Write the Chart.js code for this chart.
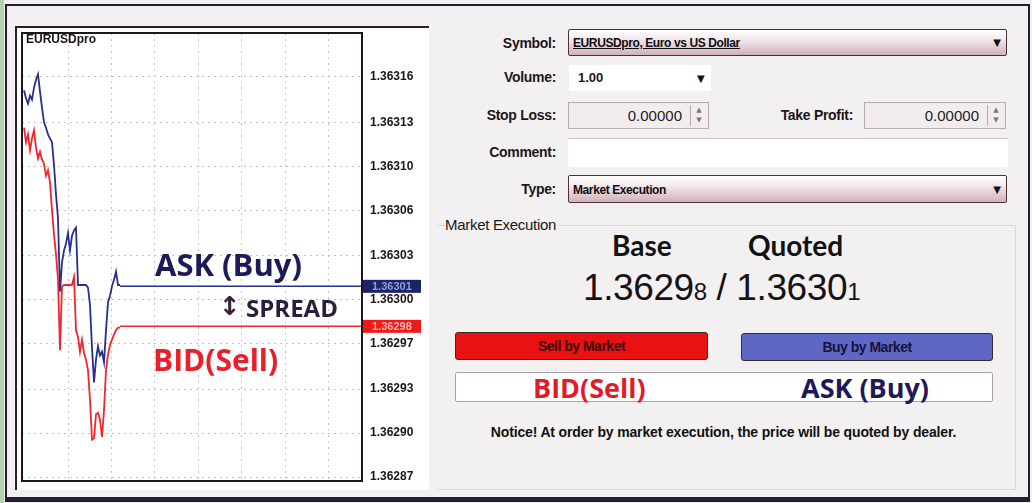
<!DOCTYPE html>
<html>
<head>
<meta charset="utf-8">
<script src="https://cdn.jsdelivr.net/npm/chart.js@4.4.0/dist/chart.umd.min.js"></script>
<style>
  body { margin: 0; width: 1032px; height: 503px; background: #f3f0f2; position: relative; overflow: hidden; font-family: "Liberation Sans", Arial, sans-serif; color: #1c1619; }
  .abs { position: absolute; }
  .lbl { position: absolute; width: 120px; text-align: right; font: bold 14px/14px "Liberation Sans", sans-serif; color: #1c1619; letter-spacing: -0.3px; }
  .combo { position: absolute; box-sizing: border-box; border: 1px solid #4a3038; border-radius: 2px;
    background: linear-gradient(to bottom, #ffffff 0%, #f4eaee 35%, #cfb2ba 100%); }
  .combo span { position: absolute; left: 4px; top: 6px; font: bold 12px/14px "Liberation Sans", sans-serif; letter-spacing: -0.4px; color: #120c10; }
  .arrow { position: absolute; font: 10px/10px "DejaVu Sans", sans-serif; color: #111; }
  .edit { position: absolute; box-sizing: border-box; border: 1px solid #b9a9b0; background: #f2ecef; }
  .edit span { position: absolute; right: 26px; top: 5px; font: 15px/16px "Liberation Sans", sans-serif; color: #222; }
  .spin { position: absolute; right: 1px; top: 2px; width: 16px; height: 21px; border-left: 1px solid #b9a9b0; font: 7px/10px "DejaVu Sans", sans-serif; color: #777; text-align: center; }
  .btn { position: absolute; box-sizing: border-box; border: 1px solid #3a2a2a; border-radius: 3px; display: flex; align-items: center; justify-content: center;
    font: bold 14px "Liberation Sans", sans-serif; letter-spacing: -0.5px; }
  .big { position: absolute; font-family: "Open Sans", sans-serif; font-weight: bold; white-space: nowrap; }
</style>
</head>
<body>
<div class="abs" style="left:0;top:0;width:4px;height:503px;background:#b5d2ae;"></div>
<div class="abs" style="left:5px;top:4px;width:1025px;height:498px;box-sizing:border-box;border:2px solid #241d38;border-bottom-width:5px;"></div>

<!-- chart panel -->
<div class="abs" style="left:15px;top:26px;width:414px;height:464px;box-sizing:border-box;background:#ffffff;border-left:2px solid #2b1d2a;border-top:2px solid #2b1d2a;"></div>
<div class="abs" style="left:17px;top:26px;width:415px;height:462px;">
  <canvas id="quotes"></canvas>
</div>
<div class="big" style="left:155px;top:249px;font-size:31px;line-height:31px;color:#1e1a5a;">ASK (Buy)</div>
<div class="abs" style="left:219px;top:292px;font:bold 26px/28px 'DejaVu Sans',sans-serif;color:#3b2236;">↕</div>
<div class="big" style="left:246px;top:296px;font-size:24px;line-height:24px;color:#2a1e3a;">SPREAD</div>
<div class="big" style="left:153px;top:345px;font-size:30px;line-height:30px;color:#e8202c;">BID(Sell)</div>

<!-- order form -->
<div class="lbl" style="left:436px;top:36px;">Symbol:</div>
<div class="combo" style="left:568px;top:29px;width:439px;height:27px;"><span style="text-decoration:underline;">EURUSDpro, Euro vs US Dollar</span><div class="arrow" style="right:5px;top:8px;">▼</div></div>

<div class="lbl" style="left:436px;top:70px;">Volume:</div>
<div class="abs" style="left:569px;top:65px;width:142px;height:26px;background:#fff;">
  <span class="abs" style="left:9px;top:6px;font:bold 13px/14px 'Liberation Sans',sans-serif;">1.00</span>
  <div class="arrow" style="left:128px;top:9px;">▼</div>
</div>

<div class="lbl" style="left:436px;top:108px;">Stop Loss:</div>
<div class="edit" style="left:568px;top:102px;width:141px;height:27px;"><span>0.00000</span><div class="spin">▲<br>▼</div></div>
<div class="lbl" style="left:733px;top:108px;">Take Profit:</div>
<div class="edit" style="left:864px;top:102px;width:142px;height:27px;"><span>0.00000</span><div class="spin">▲<br>▼</div></div>

<div class="lbl" style="left:436px;top:145px;">Comment:</div>
<div class="abs" style="left:568px;top:138px;width:440px;height:29px;box-sizing:border-box;background:#fff;border-top:1px solid #cfc6ca;"></div>

<div class="lbl" style="left:436px;top:182px;">Type:</div>
<div class="combo" style="left:568px;top:175px;width:439px;height:28px;"><span style="top:7px;">Market Execution</span><div class="arrow" style="right:5px;top:9px;">▼</div></div>

<div class="abs" style="left:438px;top:225px;width:578px;height:265px;box-sizing:border-box;border-top:1px solid #ddd5d9;border-right:1px solid #ddd5d9;border-bottom:1px solid #ddd5d9;"></div>
<div class="abs" style="left:445px;top:217px;font:15px/15px 'Liberation Sans',sans-serif;letter-spacing:-0.3px;color:#1c1619;background:#f3f0f2;padding-right:3px;">Market Execution</div>

<div class="abs" style="left:612px;top:231px;font:bold 28px/28px Lato,sans-serif;color:#111;">Base</div>
<div class="abs" style="left:748px;top:231px;font:bold 28px/28px Lato,sans-serif;color:#111;">Quoted</div>
<div class="abs" style="left:583px;top:269px;font:37px/37px 'Liberation Sans',sans-serif;letter-spacing:-0.4px;color:#161216;white-space:nowrap;">1.3629<span style="font-size:24px;">8</span> / 1.3630<span style="font-size:24px;">1</span></div>

<div class="btn" style="left:455px;top:332px;width:253px;height:28px;background:#e81212;color:#3a0808;">Sell by Market</div>
<div class="btn" style="left:741px;top:333px;width:252px;height:28px;background:#5f66c4;color:#141438;">Buy by Market</div>

<div class="abs" style="left:455px;top:372px;width:538px;height:30px;box-sizing:border-box;background:#fff;border:1px solid #a9a0a4;border-radius:2px;"></div>
<div class="big" style="left:533px;top:374px;font-size:27px;line-height:27px;color:#e01c2a;">BID(Sell)</div>
<div class="big" style="left:801px;top:374px;font-size:27px;line-height:27px;color:#1e1a5a;">ASK (Buy)</div>

<div class="abs" style="left:480px;top:425px;width:487px;text-align:center;font:bold 14px/14px 'Liberation Sans',sans-serif;letter-spacing:-0.15px;color:#111;white-space:nowrap;">Notice! At order by market execution, the price will be quoted by dealer.</div>

<script>
const symbolName = "EURUSDpro";

// ask (buy) ticks, oldest first
const askPrices = [
  1.363157, 1.363151, 1.363147, 1.363153, 1.363150, 1.363159, 1.363165, 1.363169, 1.363156, 1.363144,
  1.363133, 1.363129, 1.363124, 1.363121, 1.363118, 1.363101, 1.363079, 1.363061, 1.363006, 1.363028,
  1.363037, 1.363042, 1.363050, 1.363037, 1.363048, 1.363052, 1.363054, 1.363011, 1.363011, 1.363011,
  1.363011, 1.363011, 1.363009, 1.362996, 1.362964, 1.362938, 1.362955, 1.362965, 1.362958, 1.362961,
  1.362953, 1.362977, 1.362998, 1.363003, 1.363010, 1.363015, 1.363021, 1.363011, 1.363011
];

// bid (sell) ticks
const bidPrices = [
  1.363129, 1.363118, 1.363124, 1.363112, 1.363121, 1.363127, 1.363114, 1.363106, 1.363111, 1.363105,
  1.363102, 1.363093, 1.363097, 1.363088, 1.363067, 1.363049, 1.363034, 1.363015, 1.362962, 1.363010,
  1.363011, 1.363011, 1.363011, 1.363011, 1.363011, 1.363017, 1.362977, 1.362972, 1.362961, 1.362970,
  1.362960, 1.362955, 1.362947, 1.362925, 1.362895, 1.362896, 1.362914, 1.362915, 1.362910, 1.362897,
  1.362917, 1.362947, 1.362959, 1.362966, 1.362970, 1.362974, 1.362977, 1.362979, 1.362979
];

const askNow = 1.36301;
const bidNow = 1.36298;

const yTickValues = [1.363167, 1.363133, 1.3631, 1.363067, 1.363033, 1.363, 1.362967, 1.362933, 1.3629, 1.362867];
const yTickLabels = ["1.36316", "1.36313", "1.36310", "1.36306", "1.36303", "1.36300", "1.36297", "1.36293", "1.36290", "1.36287"];
const yMin = 1.362864;
const yMax = 1.3632;

const xGridTicks = [23, 44.7, 66.4, 88.1, 109.8, 131.5, 153.2];
const xMax = 170;

const toPoints = arr => arr.map((v, i) => ({ x: i + 1, y: v }));

// frame, symbol caption and the current price boxes on the axis
const terminalFrame = {
  id: "terminalFrame",
  afterDraw(chart) {
    const { ctx, chartArea: a, scales: { y } } = chart;
    ctx.save();
    ctx.strokeStyle = "#1d1620";
    ctx.lineWidth = 2;
    ctx.strokeRect(a.left, a.top, a.right - a.left, a.bottom - a.top);

    ctx.font = "bold 12px 'Liberation Sans'";
    ctx.fillStyle = "#1a1414";
    ctx.textBaseline = "middle";
    ctx.fillText(symbolName, a.left + 4, a.top + 7);

    [[askNow, "#1c2466", "#8e9ee0"], [bidNow, "#f01818", "#ffb6b6"]].forEach(([v, bg, fg]) => {
      const py = y.getPixelForValue(v);
      ctx.fillStyle = bg;
      ctx.fillRect(a.right + 1, py - 6.5, 58, 13);
      ctx.fillStyle = fg;
      ctx.font = "bold 11px 'Liberation Sans'";
      ctx.fillText(v.toFixed(5), a.right + 10, py + 0.5);
    });
    ctx.restore();
  }
};

new Chart(document.getElementById("quotes"), {
  type: "line",
  data: {
    datasets: [
      { data: toPoints(bidPrices), borderColor: "#f2262c", borderWidth: 1.8 },
      { data: [{ x: bidPrices.length, y: bidNow }, { x: xMax, y: bidNow }], borderColor: "#f2262c", borderWidth: 1.5 },
      { data: toPoints(askPrices), borderColor: "#27308a", borderWidth: 1.8 },
      { data: [{ x: askPrices.length, y: askNow }, { x: xMax, y: askNow }], borderColor: "#27308a", borderWidth: 1.5 }
    ]
  },
  options: {
    responsive: true,
    maintainAspectRatio: false,
    animation: false,
    elements: { point: { radius: 0 }, line: { tension: 0 } },
    layout: { padding: { left: 5, top: 7, right: 0, bottom: 7 } },
    plugins: { legend: { display: false }, tooltip: { enabled: false } },
    scales: {
      x: {
        type: "linear",
        min: 0,
        max: xMax,
        afterBuildTicks: s => { s.ticks = xGridTicks.map(v => ({ value: v })); },
        afterFit: s => { s.height = 0; s.paddingLeft = 0; s.paddingRight = 0; },
        ticks: { display: false },
        grid: { color: "#c4c4c4", drawTicks: false },
        border: { display: false, dash: [2, 4] }
      },
      y: {
        type: "linear",
        position: "right",
        min: yMin,
        max: yMax,
        afterBuildTicks: s => { s.ticks = yTickValues.map(v => ({ value: v })); },
        afterFit: s => { s.width = 70; s.paddingTop = 0; s.paddingBottom = 0; },
        ticks: {
          padding: 8,
          color: "#1a1414",
          font: { family: "Liberation Sans", weight: "bold", size: 12 },
          callback: (v, i) => yTickLabels[i]
        },
        grid: { color: "#c4c4c4", drawTicks: false },
        border: { display: false, dash: [2, 4] }
      }
    }
  },
  plugins: [terminalFrame]
});
</script>
</body>
</html>
